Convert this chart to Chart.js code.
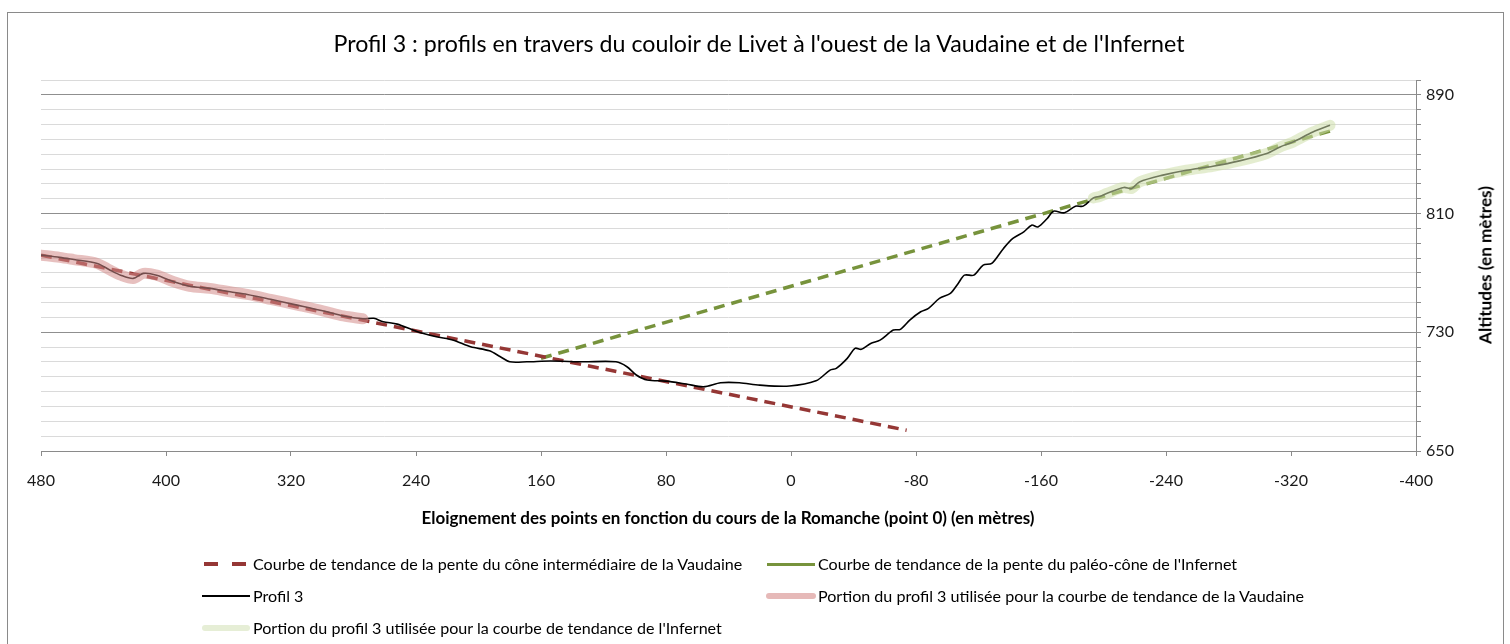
<!DOCTYPE html>
<html>
<head>
<meta charset="utf-8">
<script src="https://cdn.jsdelivr.net/npm/chart.js@4.4.0/dist/chart.umd.min.js"></script>
<style>
html,body{margin:0;padding:0;background:#fff;}
#wrap{position:relative;width:1510px;height:644px;overflow:hidden;font-family:Lato,'Open Sans',sans-serif;color:#000;}
#frame{position:absolute;left:7px;top:12px;width:1497px;height:645px;border:1px solid #8a8a8a;box-sizing:border-box;}
#c{position:absolute;left:0;top:0;}
.t{position:absolute;white-space:nowrap;line-height:1;}
.sw{position:absolute;}
</style>
</head>
<body>
<div id="wrap">
  <div id="frame"></div>
  <canvas id="c" width="1510" height="644"></canvas>
  <div id="title" class="t">Profil 3 : profils en travers du couloir de Livet à l'ouest de la Vaudaine et de l'Infernet</div>
  <div id="xtitle" class="t" style="font-weight:bold">Eloignement des points en fonction du cours de la Romanche (point 0) (en mètres)</div>
  <div id="ytitle" class="t" style="font-weight:bold">Altitudes (en mètres)</div>
  <div id="legend"></div>
</div>
<script>
// ---------- DATA ----------
const xTickLabels = [480, 400, 320, 240, 160, 80, 0, -80, -160, -240, -320, -400];
const yTickLabels = [650, 730, 810, 890];

const profileX = [480, 468, 459, 444, 436, 429, 421, 414.5, 406, 395, 385, 372, 359, 348, 333, 316, 299, 286.5, 274, 267, 261, 252, 242, 237, 227, 216, 205, 193, 186, 180, 169, 154, 133, 112, 105, 99, 92, 80, 67, 56, 45, 33, 20, 1, -16, -25, -29, -36, -41, -45, -51, -57, -65.5, -70, -76, -83, -88, -95, -102, -107, -111, -117, -123, -128.5, -136, -142, -149, -154, -158, -164, -168, -175, -182, -187, -193.5, -198, -202, -213, -218, -223, -238, -253, -270, -287, -304.5, -313, -321.5, -334, -345];
const profileY = [782, 780.5, 779, 776.4, 772, 768.5, 766.3, 769.7, 768.5, 764, 761, 759.6, 757.3, 755.5, 752.2, 748.3, 744.3, 741, 739.1, 739.4, 737.1, 735.5, 731.5, 729.7, 727, 724.7, 720.2, 717.5, 713.5, 710.1, 710.1, 710.6, 710.1, 710.1, 706.8, 701.2, 697.8, 697.1, 695.1, 693.3, 696, 696, 694.4, 693.8, 697.3, 704.5, 705.7, 712.4, 719.2, 718.5, 722.5, 724.7, 731.5, 732, 738.2, 743.8, 746.1, 752.8, 756.2, 762.9, 768.5, 768.5, 775.3, 776.4, 786.5, 793.2, 797.7, 802.2, 801, 806.7, 811.6, 810.5, 815, 815, 820.5, 821.7, 823.5, 827.6, 826.9, 831.3, 835.9, 839.2, 841.9, 845.5, 850.5, 854.9, 858.3, 865, 869.5];

const vaudaineTrendX = [480, -74];
const vaudaineTrendY = [782, 664];
const infernetTrendX = [160, -348];
const infernetTrendY = [712.5, 866.5];

const vaudainePortionFrom = 480, vaudainePortionTo = 274;
const infernetPortionFrom = -193.5, infernetPortionTo = -345;

const labels = [
  "Courbe de tendance de la pente du cône intermédiaire de la Vaudaine",
  "Courbe de tendance de la pente du paléo-cône de l'Infernet",
  "Profil 3",
  "Portion du profil 3 utilisée pour la courbe de tendance de la Vaudaine",
  "Portion du profil 3 utilisée pour la courbe de tendance de l'Infernet"
];

// ---------- helpers ----------
const FONT = 'Lato';
const mc = document.createElement('canvas').getContext('2d');
function fitSize(text, weight, target){
  mc.font = weight + ' 100px ' + FONT;
  return 100 * target / mc.measureText(text).width;
}
function pts(xs, ys){ return xs.map((x,i)=>({x:x, y:ys[i]})); }
const profile = pts(profileX, profileY);
const portionV = profile.filter(p => p.x <= vaudainePortionFrom && p.x >= vaudainePortionTo);
const portionI = profile.filter(p => p.x <= infernetPortionFrom && p.x >= infernetPortionTo);

// ---------- text layout ----------
function place(id, text, weight, width, cx, cy, rot){
  const el = document.getElementById(id);
  el.style.fontSize = fitSize(text, weight, width).toFixed(2) + 'px';
  el.style.left = cx + 'px'; el.style.top = cy + 'px';
  el.style.transform = 'translate(-50%,-50%)' + (rot ? ' rotate(' + rot + 'deg)' : '');
}
place('title', document.getElementById('title').textContent, 'normal', 853, 759, 44);
place('xtitle', document.getElementById('xtitle').textContent, 'bold', 613, 728, 517);
place('ytitle', document.getElementById('ytitle').textContent, 'bold', 158, 1485, 265, -90);

const legFs = fitSize(labels[0], 'normal', 490);
const legItems = [
  {lab:0, x:253, y:564, sw:{l:204, w:43, h:4, bg:'repeating-linear-gradient(to right,#953735 0 14px,transparent 14px 28px)'}},
  {lab:1, x:818, y:564, sw:{l:767, w:48, h:3, bg:'#77933c'}},
  {lab:2, x:253, y:596, sw:{l:202, w:48, h:1.6, bg:'#000'}},
  {lab:3, x:818, y:596, sw:{l:766, w:50, h:6, bg:'#e6b9b8'}},
  {lab:4, x:253, y:628, sw:{l:202, w:48, h:6, bg:'#e6eed6'}}
];
const legEl = document.getElementById('legend');
legItems.forEach(it => {
  const s = document.createElement('div'); s.className = 'sw';
  s.style.left = it.sw.l + 'px'; s.style.width = it.sw.w + 'px'; s.style.height = it.sw.h + 'px';
  s.style.top = (it.y - it.sw.h/2) + 'px'; s.style.background = it.sw.bg;
  if (it.sw.h >= 6) s.style.borderRadius = '3px';
  legEl.appendChild(s);
  const t = document.createElement('div'); t.className = 't';
  t.textContent = labels[it.lab]; t.style.fontSize = legFs.toFixed(2) + 'px';
  t.style.left = it.x + 'px'; t.style.top = it.y + 'px'; t.style.transform = 'translateY(-50%)';
  legEl.appendChild(t);
});

// ---------- chart ----------
const tickFs = fitSize('730', 'normal', 28);
Chart.defaults.font.family = FONT;
Chart.defaults.color = '#1a1a1a';
const isMajor = v => yTickLabels.includes(v);

new Chart(document.getElementById('c'), {
  type: 'scatter',
  data: { datasets: [
    { label: labels[4], data: portionI, showLine: true, borderColor: 'rgba(205,222,170,0.55)', borderWidth: 11, pointRadius: 0, tension: 0.3, borderCapStyle: 'round', borderJoinStyle: 'round', order: 0 },
    { label: labels[3], data: portionV, showLine: true, borderColor: 'rgba(212,140,138,0.55)', borderWidth: 11, pointRadius: 0, tension: 0.3, borderCapStyle: 'round', borderJoinStyle: 'round', order: 1 },
    { label: labels[2], data: profile, showLine: true, borderColor: '#000', borderWidth: 1.6, pointRadius: 0, tension: 0.3, order: 2 },
    { label: labels[0], data: pts(vaudaineTrendX, vaudaineTrendY), showLine: true, borderColor: '#953735', borderWidth: 3.5, borderDash: [11, 7], pointRadius: 0, order: 3 },
    { label: labels[1], data: pts(infernetTrendX, infernetTrendY), showLine: true, borderColor: '#77933c', borderWidth: 3.5, borderDash: [11, 7], pointRadius: 0, order: 4 }
  ]},
  options: {
    responsive: false, animation: false,
    layout: { padding: { left: 41, top: 80, right: 34, bottom: 153 } },
    plugins: { legend: { display: false }, tooltip: { enabled: false }, title: { display: false } },
    scales: {
      x: {
        type: 'linear', position: 'bottom', reverse: true, min: -400, max: 480,
        afterFit: s => { s.height = 40; },
        afterBuildTicks: s => { s.ticks = xTickLabels.map(v => ({value: v})); },
        ticks: { stepSize: 80, autoSkip: false, maxRotation: 0, padding: 15, font: { size: tickFs }, callback: v => String(v) },
        grid: { drawOnChartArea: false, drawTicks: true, tickLength: 5, color: '#8a8a8a', tickColor: '#8a8a8a' },
        border: { color: '#8a8a8a', width: 1 }
      },
      y: {
        type: 'linear', position: 'right', min: 650, max: 900,
        afterFit: s => { s.width = 60; },
        ticks: { stepSize: 10, autoSkip: false, padding: 5, font: { size: tickFs }, callback: v => isMajor(v) ? String(v) : '' },
        grid: { drawTicks: true, tickLength: 5, lineWidth: 1,
                color: c => isMajor(c.tick.value) ? '#8f8f8f' : '#dadada',
                tickColor: '#8a8a8a' },
        border: { color: '#8a8a8a', width: 1 }
      }
    }
  }
});
</script>
</body>
</html>
